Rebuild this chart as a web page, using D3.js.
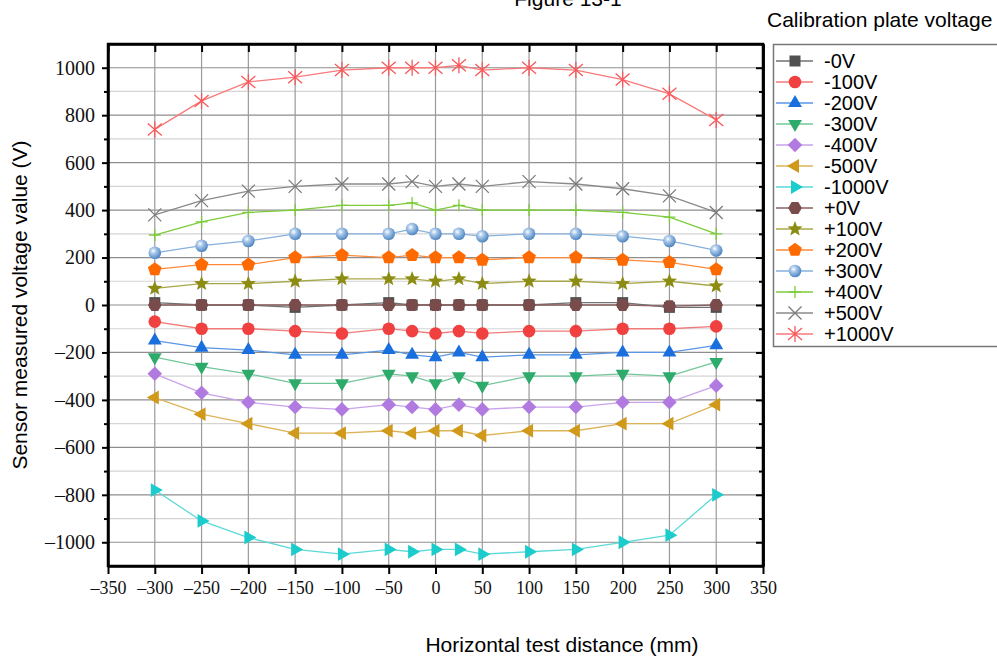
<!DOCTYPE html>
<html>
<head>
<meta charset="utf-8">
<script src="https://cdn.jsdelivr.net/npm/d3@7"></script>
<style>
  html, body { margin: 0; padding: 0; background: #fff; }
  svg { display: block; }
</style>
</head>
<body>
<svg id="chart" width="997" height="661"></svg>
<script>
// ---------- DATA ----------
const distances = [-300, -250, -200, -150, -100, -50, -25, 0, 25, 50, 100, 150, 200, 250, 300];
const seriesNames = ["-0V", "-100V", "-200V", "-300V", "-400V", "-500V", "-1000V",
                     "+0V", "+100V", "+200V", "+300V", "+400V", "+500V", "+1000V"];
const vNeg0    = [10, 0, 0, -10, 0, 10, 0, 0, 0, 0, 0, 10, 10, -10, -10];
const vNeg100  = [-70, -100, -100, -110, -120, -100, -110, -120, -110, -120, -110, -110, -100, -100, -90];
const vNeg200  = [-150, -180, -190, -210, -210, -190, -210, -220, -200, -220, -210, -210, -200, -200, -170];
const vNeg300  = [-220, -260, -290, -330, -330, -290, -300, -330, -300, -340, -300, -300, -290, -300, -240];
const vNeg400  = [-290, -370, -410, -430, -440, -420, -430, -440, -420, -440, -430, -430, -410, -410, -340];
const vNeg500  = [-390, -460, -500, -540, -540, -530, -540, -530, -530, -550, -530, -530, -500, -500, -420];
const vNeg1000 = [-780, -910, -980, -1030, -1050, -1030, -1040, -1030, -1030, -1050, -1040, -1030, -1000, -970, -800];
const vPos0    = [0, 0, 0, 0, 0, 0, 0, 0, 0, 0, 0, 0, 0, -5, 0];
const vPos100  = [70, 90, 90, 100, 110, 110, 110, 100, 110, 90, 100, 100, 90, 100, 80];
const vPos200  = [150, 170, 170, 200, 210, 200, 210, 200, 200, 190, 200, 200, 190, 180, 150];
const vPos300  = [220, 250, 270, 300, 300, 300, 320, 300, 300, 290, 300, 300, 290, 270, 230];
const vPos400  = [295, 350, 390, 400, 420, 420, 430, 400, 420, 400, 400, 400, 390, 370, 300];
const vPos500  = [380, 440, 480, 500, 510, 510, 520, 500, 510, 500, 520, 510, 490, 460, 390];
const vPos1000 = [740, 860, 940, 960, 990, 1000, 1000, 1000, 1010, 990, 1000, 990, 950, 890, 780];
const seriesValues = [vNeg0, vNeg100, vNeg200, vNeg300, vNeg400, vNeg500, vNeg1000,
                      vPos0, vPos100, vPos200, vPos300, vPos400, vPos500, vPos1000];
const xTicks = [-350, -300, -250, -200, -150, -100, -50, 0, 50, 100, 150, 200, 250, 300, 350];
const yTicks = [-1000, -800, -600, -400, -200, 0, 200, 400, 600, 800, 1000];
const titleText = "Figure 13-1";
const legendTitle = "Calibration plate voltage";
const xTitle = "Horizontal test distance (mm)";
const yTitle = "Sensor measured voltage value (V)";

// ---------- STYLE ----------
const styles = [
  {shape: "square",   fill: "#505050", line: "#707070"},
  {shape: "circle",   fill: "#f04040", line: "#f27a7a"},
  {shape: "triUp",    fill: "#1a6fdf", line: "#5a96e6"},
  {shape: "triDown",  fill: "#2eaa6a", line: "#72c79a"},
  {shape: "diamond",  fill: "#b07ae0", line: "#c9a2ea"},
  {shape: "triLeft",  fill: "#d0991a", line: "#dcb456"},
  {shape: "triRight", fill: "#1ccbcb", line: "#5cd9d9"},
  {shape: "hexagon",  fill: "#7a4b4b", line: "#8a6262"},
  {shape: "star",     fill: "#8c8c12", line: "#a8a84a"},
  {shape: "pentagon", fill: "#ff6a00", line: "#ff8a3a"},
  {shape: "sphere",   fill: "#6a9fd4", line: "#86b0dc"},
  {shape: "plus",     fill: "#7ccc3a", line: "#7ccc3a"},
  {shape: "cross",    fill: "#7a7a7a", line: "#8a8a8a"},
  {shape: "asterisk", fill: "#f8585a", line: "#f87a7a"}
];

const svg = d3.select("#chart");
const plot = {left: 108, right: 763, top: 44, bottom: 566};

const x = d3.scaleLinear().domain([-350, 350]).range([plot.left, plot.right]);
const y = d3.scaleLinear().domain([-1100, 1100]).range([plot.bottom, plot.top]);

// gradient for sphere
const defs = svg.append("defs");
const grad = defs.append("radialGradient").attr("id", "sphereGrad")
  .attr("cx", "38%").attr("cy", "35%").attr("r", "65%");
grad.append("stop").attr("offset", "0%").attr("stop-color", "#ffffff");
grad.append("stop").attr("offset", "35%").attr("stop-color", "#a9c8ea");
grad.append("stop").attr("offset", "100%").attr("stop-color", "#4f86c2");

// ---------- GRID ----------
const yMinor = d3.range(-1100, 1101, 100).filter(v => v % 200 !== 0 && v > -1100 && v < 1100);
const gGrid = svg.append("g");
gGrid.selectAll("line.hminor").data(yMinor)
  .join("line").attr("x1", plot.left).attr("x2", plot.right)
  .attr("y1", d => y(d)).attr("y2", d => y(d))
  .attr("stroke", "#d4d4d4").attr("stroke-width", 1.2);
gGrid.selectAll("line.hmajor").data(yTicks)
  .join("line").attr("x1", plot.left).attr("x2", plot.right)
  .attr("y1", d => y(d)).attr("y2", d => y(d))
  .attr("stroke", "#8e8e8e").attr("stroke-width", 1.2);
gGrid.selectAll("line.v").data(xTicks.filter(v => v > -350 && v < 350))
  .join("line").attr("y1", plot.top).attr("y2", plot.bottom)
  .attr("x1", d => x(d)).attr("x2", d => x(d))
  .attr("stroke", "#9a9a9a").attr("stroke-width", 1.2);

// ---------- AXES ----------
const tickFont = "'Liberation Serif', 'DejaVu Serif', serif";
const fmt = d => (d < 0 ? "\u2013" + Math.abs(d) : String(d));

const gx = svg.append("g").attr("transform", `translate(0,${plot.bottom})`)
  .call(d3.axisBottom(x).tickValues(xTicks).tickFormat(fmt).tickSize(8).tickSizeOuter(0).tickPadding(7));
const gy = svg.append("g").attr("transform", `translate(${plot.left},0)`)
  .call(d3.axisLeft(y).tickValues(yTicks).tickFormat(fmt).tickSize(6).tickSizeOuter(0).tickPadding(7));
svg.append("g").attr("transform", `translate(${plot.left},0)`)
  .call(d3.axisLeft(y).tickValues(yMinor).tickFormat("").tickSize(4).tickSizeOuter(0))
  .call(g => g.select(".domain").remove());
// mirrored top (inward)
svg.append("g").attr("transform", `translate(0,${plot.top})`)
  .call(d3.axisBottom(x).tickValues(xTicks).tickFormat("").tickSize(8).tickSizeOuter(0));
// mirrored right (inward)
svg.append("g").attr("transform", `translate(${plot.right},0)`)
  .call(d3.axisLeft(y).tickValues(yTicks).tickFormat("").tickSize(7).tickSizeOuter(0));
svg.append("g").attr("transform", `translate(${plot.right},0)`)
  .call(d3.axisLeft(y).tickValues(yMinor).tickFormat("").tickSize(4).tickSizeOuter(0));

svg.selectAll(".tick line").attr("stroke", "#000").attr("stroke-width", 2);
svg.selectAll(".domain").attr("stroke", "#000").attr("stroke-width", 2.5);
gx.selectAll(".tick text").attr("font-family", tickFont).attr("font-size", 18).attr("fill", "#111");
gy.selectAll(".tick text").attr("font-family", tickFont).attr("font-size", 20).attr("fill", "#111");

// frame
svg.append("rect").attr("x", plot.left).attr("y", plot.top)
  .attr("width", plot.right - plot.left).attr("height", plot.bottom - plot.top)
  .attr("fill", "none").attr("stroke", "#000").attr("stroke-width", 2.5);

// ---------- MARKERS ----------
function poly(n, r, rot) {
  const pts = [];
  for (let i = 0; i < n; i++) {
    const a = rot + i * 2 * Math.PI / n;
    pts.push([r * Math.cos(a), r * Math.sin(a)]);
  }
  return "M" + pts.map(p => p[0].toFixed(2) + "," + p[1].toFixed(2)).join("L") + "Z";
}
function starPath(ro, ri) {
  const pts = [];
  for (let i = 0; i < 10; i++) {
    const r = i % 2 === 0 ? ro : ri;
    const a = -Math.PI / 2 + i * Math.PI / 5;
    pts.push([r * Math.cos(a), r * Math.sin(a)]);
  }
  return "M" + pts.map(p => p[0].toFixed(2) + "," + p[1].toFixed(2)).join("L") + "Z";
}
function drawMarker(g, shape, fill) {
  switch (shape) {
    case "square":
      g.append("rect").attr("x", -5.5).attr("y", -5.5).attr("width", 11).attr("height", 11).attr("fill", fill); break;
    case "circle":
      g.append("circle").attr("r", 6.3).attr("fill", fill); break;
    case "triUp":
      g.append("path").attr("d", poly(3, 8, -Math.PI / 2)).attr("fill", fill); break;
    case "triDown":
      g.append("path").attr("d", poly(3, 8, Math.PI / 2)).attr("fill", fill); break;
    case "triLeft":
      g.append("path").attr("d", poly(3, 8, Math.PI)).attr("fill", fill); break;
    case "triRight":
      g.append("path").attr("d", poly(3, 8, 0)).attr("fill", fill); break;
    case "diamond":
      g.append("path").attr("d", poly(4, 7.3, 0)).attr("fill", fill); break;
    case "hexagon":
      g.append("path").attr("d", poly(6, 6.8, 0)).attr("fill", fill); break;
    case "pentagon":
      g.append("path").attr("d", poly(5, 7.2, -Math.PI / 2)).attr("fill", fill); break;
    case "star":
      g.append("path").attr("d", starPath(8, 3.4)).attr("fill", fill); break;
    case "sphere":
      g.append("circle").attr("r", 6.3).attr("fill", "url(#sphereGrad)"); break;
    case "plus":
      g.append("path").attr("d", "M-6,0H6M0,-6V6").attr("stroke", fill).attr("stroke-width", 1.3).attr("fill", "none"); break;
    case "cross":
      g.append("path").attr("d", "M-6.5,-6.5L6.5,6.5M-6.5,6.5L6.5,-6.5").attr("stroke", fill).attr("stroke-width", 1.3).attr("fill", "none"); break;
    case "asterisk":
      g.append("path").attr("d", "M-7,-6L7,6M-7,6L7,-6M0,-8V8").attr("stroke", fill).attr("stroke-width", 1.3).attr("fill", "none"); break;
  }
}

// ---------- SERIES ----------
const line = d3.line().x((d, i) => x(distances[i])).y(d => y(d));
const gSeries = svg.append("g");
seriesValues.forEach((vals, si) => {
  const st = styles[si];
  const g = gSeries.append("g");
  g.append("path").attr("d", line(vals)).attr("fill", "none")
    .attr("stroke", st.line).attr("stroke-width", 1.3);
  vals.forEach((v, i) => {
    const m = g.append("g").attr("transform", `translate(${x(distances[i])},${y(v)})`);
    drawMarker(m, st.shape, st.fill);
  });
});

// ---------- TEXT ----------
const sans = "'Liberation Sans', Arial, sans-serif";
svg.append("text").attr("x", 568).attr("y", 6).attr("text-anchor", "middle")
  .attr("font-family", sans).attr("font-size", 21).attr("fill", "#000").text(titleText);
svg.append("text").attr("x", 767).attr("y", 27)
  .attr("font-family", sans).attr("font-size", 21).attr("fill", "#000").text(legendTitle);
svg.append("text").attr("x", 562).attr("y", 652).attr("text-anchor", "middle")
  .attr("font-family", sans).attr("font-size", 21).attr("fill", "#000").text(xTitle);
svg.append("text").attr("transform", "translate(27,305) rotate(-90)").attr("text-anchor", "middle")
  .attr("font-family", sans).attr("font-size", 21).attr("fill", "#000").text(yTitle);

// ---------- LEGEND ----------
const lg = svg.append("g");
lg.append("rect").attr("x", 773.5).attr("y", 44.5).attr("width", 240).attr("height", 302)
  .attr("fill", "#fff").attr("stroke", "#777").attr("stroke-width", 1.5);
seriesNames.forEach((name, i) => {
  const yy = 61 + i * 21;
  const st = styles[i];
  lg.append("line").attr("x1", 776).attr("x2", 813).attr("y1", yy).attr("y2", yy)
    .attr("stroke", st.line).attr("stroke-width", 1.3);
  drawMarker(lg.append("g").attr("transform", `translate(795,${yy})`), st.shape, st.fill);
  lg.append("text").attr("x", 824).attr("y", yy + 7)
    .attr("font-family", sans).attr("font-size", 20).attr("fill", "#000").text(name);
});
</script>
</body>
</html>
